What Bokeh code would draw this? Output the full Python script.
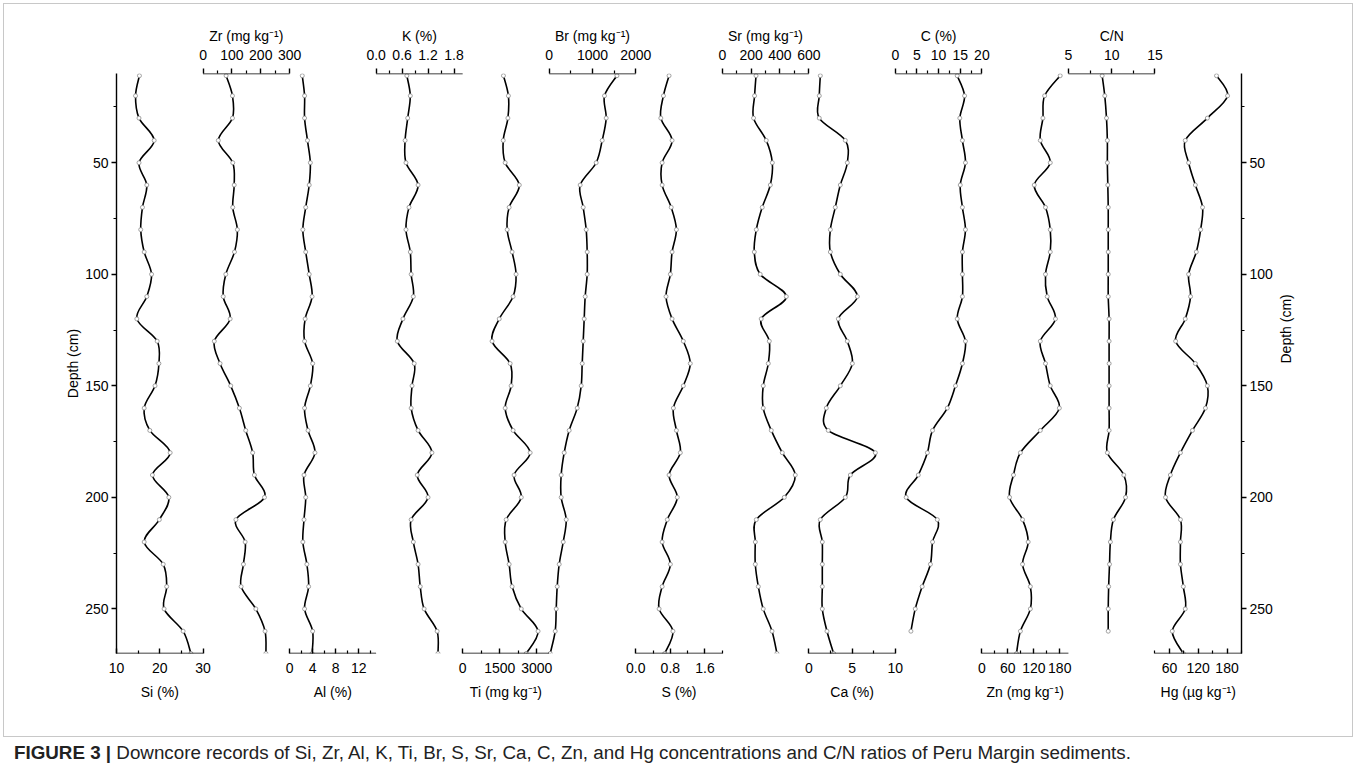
import math
from bokeh.plotting import figure
from bokeh.models import (Range1d, LinearAxis, FixedTicker, ColumnDataSource, Arrow, Div)
from bokeh.layouts import column
from bokeh.embed import file_html
from bokeh.resources import INLINE

# ---------------- data ----------------
depth = [11, 20, 30, 40, 50, 60, 70, 80, 90, 100, 110, 120, 130, 140, 150, 160,
         170, 180, 190, 200, 210, 220, 230, 240, 250, 260, 270]
depth_c = [11, 20, 30, 40, 50, 60, 70, 80, 90, 100, 110, 120, 130, 140, 150, 160,
           170, 180, 190, 200, 210, 220, 230, 240, 250, 260]

si = [15.3, 14.4, 15.2, 18.7, 15.2, 17.0, 16.0, 15.6, 16.4, 18.1, 17.0, 14.7, 19.4, 19.8,
      18.9, 16.4, 17.7, 22.4, 18.3, 22.1, 19.9, 16.4, 20.8, 21.6, 21.0, 25.4, 27.2]
zr = [80, 102, 102, 53, 103, 108, 103, 119, 109, 79, 70, 94, 39, 59, 96, 126, 148, 172,
      178, 213, 114, 146, 140, 132, 183, 215, 218]
al = [2.2, 2.6, 2.6, 3.1, 3.6, 3.4, 2.8, 2.3, 2.8, 3.4, 3.9, 2.7, 2.6, 4.0, 3.6, 2.6, 3.2,
      4.4, 2.5, 2.8, 2.5, 2.3, 3.0, 3.3, 2.6, 4.0, 3.9]
k = [0.71, 0.79, 0.73, 0.67, 0.69, 0.97, 0.76, 0.69, 0.79, 0.81, 0.86, 0.62, 0.49, 0.88,
     0.83, 0.81, 0.97, 1.29, 0.95, 1.20, 0.81, 0.86, 0.97, 1.02, 1.11, 1.41, 1.43]
ti = [1650, 1850, 1830, 1640, 1720, 2290, 1880, 1800, 2000, 2160, 2040, 1480, 1190, 1920,
      1960, 1720, 2040, 2730, 2080, 2370, 1760, 1720, 1880, 2000, 2370, 3050, 2570]
br = [1565, 1278, 1317, 1225, 1086, 716, 786, 855, 878, 878, 832, 809, 786, 763, 740, 647,
      462, 347, 277, 277, 393, 324, 231, 185, 162, 139, 23]
s = [0.77, 0.64, 0.58, 0.84, 0.61, 0.61, 0.82, 0.94, 0.84, 0.80, 0.70, 0.84, 1.10, 1.26,
     1.10, 0.87, 0.94, 1.03, 0.77, 0.96, 0.73, 0.61, 0.80, 0.61, 0.54, 0.86, 0.67]
sr = [234, 224, 217, 305, 347, 333, 277, 236, 222, 263, 444, 270, 326, 319, 284, 284, 340,
      416, 506, 430, 236, 229, 229, 250, 284, 345, 379]
ca = [1.33, 1.21, 1.21, 4.22, 4.45, 3.64, 3.06, 2.49, 2.49, 3.64, 5.61, 3.41, 4.45, 5.03,
      3.64, 2.02, 2.25, 7.69, 4.80, 4.22, 1.33, 1.56, 1.56, 1.56, 1.56, 2.10, 2.87]
c = [14.3, 16.0, 14.9, 15.5, 16.2, 15.0, 15.5, 16.2, 15.5, 15.5, 15.5, 14.3, 16.2, 15.5,
     13.9, 12.0, 8.6, 7.4, 5.3, 2.5, 9.7, 8.6, 8.1, 6.2, 4.6, 3.6]
zn = [181, 145, 141, 135, 158, 121, 147, 158, 158, 147, 151, 170, 135, 147, 158, 179, 135,
      89, 73, 64, 94, 107, 94, 112, 112, 89, 80]
cn = [8.9, 9.2, 9.4, 9.5, 9.5, 9.55, 9.6, 9.6, 9.6, 9.6, 9.6, 9.7, 9.7, 9.7, 9.7, 9.7, 9.7,
      9.5, 11.4, 11.6, 10.2, 9.85, 9.75, 9.65, 9.6, 9.6]
hg = [158, 181, 139, 93, 100, 114, 129, 125, 116, 100, 104, 93, 73, 114, 139, 135, 108, 83,
      62, 52, 83, 83, 83, 89, 93, 66, 89]

# axis definitions: (range, major ticks, tick labels, minor ticks)
si_axis = ((10, 30), [10, 20, 30], ["10", "20", "30"], [15, 25])
zr_axis = ((0, 300), [0, 100, 200, 300], ["0", "100", "200", "300"], [50, 150, 250])
al_axis = ((0, 15), [0, 4, 8, 12], ["0", "4", "8", "12"], [2, 6, 10, 14])
k_axis = ((0, 2.0), [0, 0.6, 1.2, 1.8], ["0.0", "0.6", "1.2", "1.8"], [0.3, 0.9, 1.5])
ti_axis = ((0, 3500), [0, 1500, 3000], ["0", "1500", "3000"], [750, 2250])
br_axis = ((0, 2000), [0, 1000, 2000], ["0", "1000", "2000"], [500, 1500])
s_axis = ((0, 2.0), [0, 0.8, 1.6], ["0.0", "0.8", "1.6"], [0.4, 1.2, 2.0])
sr_axis = ((0, 600), [0, 200, 400, 600], ["0", "200", "400", "600"], [100, 300, 500])
ca_axis = ((0, 10), [0, 5, 10], ["0", "5", "10"], [2.5, 7.5])
c_axis = ((0, 20), [0, 5, 10, 15, 20], ["0", "5", "10", "15", "20"], [2.5, 7.5, 12.5, 17.5])
zn_axis = ((0, 200), [0, 60, 120, 180], ["0", "60", "120", "180"], [30, 90, 150])
cn_axis = ((5, 15), [5, 10, 15], ["5", "10", "15"], [7.5, 12.5])
hg_axis = ((30, 210), [60, 120, 180], ["60", "120", "180"], [30, 90, 150, 210])

depth_ticks = [50, 100, 150, 200, 250]
depth_minor = [25, 75, 125, 175, 225]

tracks = [
    ("Si", si, depth, si_axis, "below", "Si (%)"),
    ("Zr", zr, depth, zr_axis, "above", "Zr (mg kg\u207b\u00b9)"),
    ("Al", al, depth, al_axis, "below", "Al (%)"),
    ("K", k, depth, k_axis, "above", "K (%)"),
    ("Ti", ti, depth, ti_axis, "below", "Ti (mg kg\u207b\u00b9)"),
    ("Br", br, depth, br_axis, "above", "Br (mg kg\u207b\u00b9)"),
    ("S", s, depth, s_axis, "below", "S (%)"),
    ("Sr", sr, depth, sr_axis, "above", "Sr (mg kg\u207b\u00b9)"),
    ("Ca", ca, depth, ca_axis, "below", "Ca (%)"),
    ("C", c, depth_c, c_axis, "above", "C (%)"),
    ("Zn", zn, depth, zn_axis, "below", "Zn (mg kg\u207b\u00b9)"),
    ("CN", cn, depth_c, cn_axis, "above", "C/N"),
    ("Hg", hg, depth, hg_axis, "below", "Hg (\u00b5g kg\u207b\u00b9)"),
]

# ---------------- layout / style ----------------
FONT = "Liberation Sans"
NT = len(tracks)
UNIT = 1000          # width of one track in main x units
D_TOP, D_BOT = 10, 270
PW_L, PW_R, PW_T, PW_B = 112, 111, 69, 83
FW, FH = 1125, 580

p = figure(frame_width=FW, frame_height=FH,
           x_range=Range1d(0, NT * UNIT), y_range=Range1d(D_BOT, D_TOP),
           min_border_left=PW_L, min_border_right=PW_R,
           min_border_top=PW_T, min_border_bottom=PW_B,
           x_axis_location=None, y_axis_location=None,
           output_backend="svg", toolbar_location=None)
p.outline_line_color = None
p.xgrid.visible = False
p.ygrid.visible = False
p.background_fill_color = "white"
p.border_fill_color = "white"


def catmull(xs, ys):
    n = len(xs)
    out = dict(x0=[], y0=[], x1=[], y1=[], cx0=[], cy0=[], cx1=[], cy1=[])
    for i in range(n - 1):
        im, ip = max(i - 1, 0), min(i + 2, n - 1)
        out["x0"].append(xs[i]); out["y0"].append(ys[i])
        out["x1"].append(xs[i + 1]); out["y1"].append(ys[i + 1])
        out["cx0"].append(xs[i] + (xs[i + 1] - xs[im]) / 6.0)
        out["cy0"].append(ys[i] + (ys[i + 1] - ys[im]) / 6.0)
        out["cx1"].append(xs[i + 1] - (xs[ip] - xs[i]) / 6.0)
        out["cy1"].append(ys[i + 1] - (ys[ip] - ys[i]) / 6.0)
    return out


axis_ticks = {"below": ([], [], {}), "above": ([], [], {})}
titles = {"below": ([], {}), "above": ([], {})}
base = {"below": dict(x0=[], x1=[], y=[]), "above": dict(x0=[], x1=[], y=[])}

for i, (name, vals, dep, axdef, side, title) in enumerate(tracks):
    (lo, hi), majors, labels, minors = axdef
    span = hi - lo
    p.extra_x_ranges[name] = Range1d(lo - i * span, lo + (NT - i) * span)

    seg = catmull(vals, dep)
    p.bezier(x0="x0", y0="y0", x1="x1", y1="y1", cx0="cx0", cy0="cy0", cx1="cx1", cy1="cy1",
             source=ColumnDataSource(seg), x_range_name=name,
             line_color="black", line_width=1.6)
    p.scatter(vals, dep, x_range_name=name, marker="circle", size=4,
              line_color="#8a8a8a", fill_color="white", line_width=0.8)

    ticks, mticks, over = axis_ticks[side]
    for v, lab in zip(majors, labels):
        pos = int(round(i * UNIT + (v - lo) / span * UNIT))
        ticks.append(pos)
        over[pos] = lab
    for v in minors:
        mticks.append(int(round(i * UNIT + (v - lo) / span * UNIT)))

    base[side]["x0"].append(i * UNIT)
    base[side]["x1"].append((i + 1) * UNIT)
    base[side]["y"].append(D_BOT if side == "below" else D_TOP)

    cpos = i * UNIT + UNIT // 2
    titles[side][0].append(cpos)
    titles[side][1][cpos] = title

common = dict(major_label_text_font=FONT, major_label_text_font_size="14px",
              major_label_text_color="black", axis_line_width=1.4,
              major_tick_line_width=1.4, minor_tick_line_width=1.2,
              major_tick_line_color="black", minor_tick_line_color="black")

for side in ("below", "above"):
    ticks, mticks, over = axis_ticks[side]
    ax = LinearAxis(ticker=FixedTicker(ticks=ticks, minor_ticks=mticks),
                    major_label_overrides=over, axis_line_color=None, **common)
    if side == "below":
        ax.major_tick_in, ax.major_tick_out = 5, 0
        ax.minor_tick_in, ax.minor_tick_out = 3, 0
        ax.major_label_standoff = 9
    else:
        ax.major_tick_in, ax.major_tick_out = 0, 5
        ax.minor_tick_in, ax.minor_tick_out = 0, 3
        ax.major_label_standoff = 9
    p.add_layout(ax, side)

    # second axis level carrying the track titles
    tpos, tover = titles[side]
    tax = LinearAxis(ticker=FixedTicker(ticks=tpos, minor_ticks=[]),
                     major_label_overrides=tover, axis_line_color=None,
                     major_tick_line_color=None, minor_tick_line_color=None,
                     major_tick_in=0, major_tick_out=0, minor_tick_in=0, minor_tick_out=0,
                     major_label_text_font=FONT, major_label_text_font_size="14px",
                     major_label_text_color="black",
                     major_label_standoff=8 if side == "below" else 3)
    p.add_layout(tax, side)

    p.add_layout(Arrow(x_start="x0", y_start="y", x_end="x1", y_end="y", start=None, end=None,
                       source=ColumnDataSource(base[side]), line_color="black", line_width=1.4))

for side in ("left", "right"):
    ax = LinearAxis(ticker=FixedTicker(ticks=depth_ticks, minor_ticks=depth_minor),
                    axis_label="Depth (cm)", axis_label_text_font=FONT,
                    axis_label_text_font_size="14px", axis_label_text_font_style="normal",
                    axis_label_text_color="black", axis_line_color="black",
                    major_tick_in=0, major_tick_out=5, minor_tick_in=0, minor_tick_out=3,
                    major_label_standoff=3, **common)
    if side == "right":
        ax.axis_label_orientation = math.pi / 2
        ax.axis_label_standoff = 10
    else:
        ax.axis_label_standoff = 1
    p.add_layout(ax, side)

boxed = column(p, margin=(3, 0, 0, 3),
               styles={"border": "1px solid #c8c8c8"})

caption = Div(text="<b>FIGURE 3 |</b> Downcore records of Si, Zr, Al, K, Ti, Br, S, Sr, Ca, C, Zn, "
                   "and Hg concentrations and C/N ratios of Peru Margin sediments.",
              width=1300, margin=(3, 0, 0, 14),
              styles={"font-family": "'Liberation Sans', Arial, sans-serif",
                      "font-size": "18.8px", "color": "#222", "white-space": "nowrap"})

layout = column(boxed, caption)
open("out.html", "w").write(file_html(layout, INLINE))
